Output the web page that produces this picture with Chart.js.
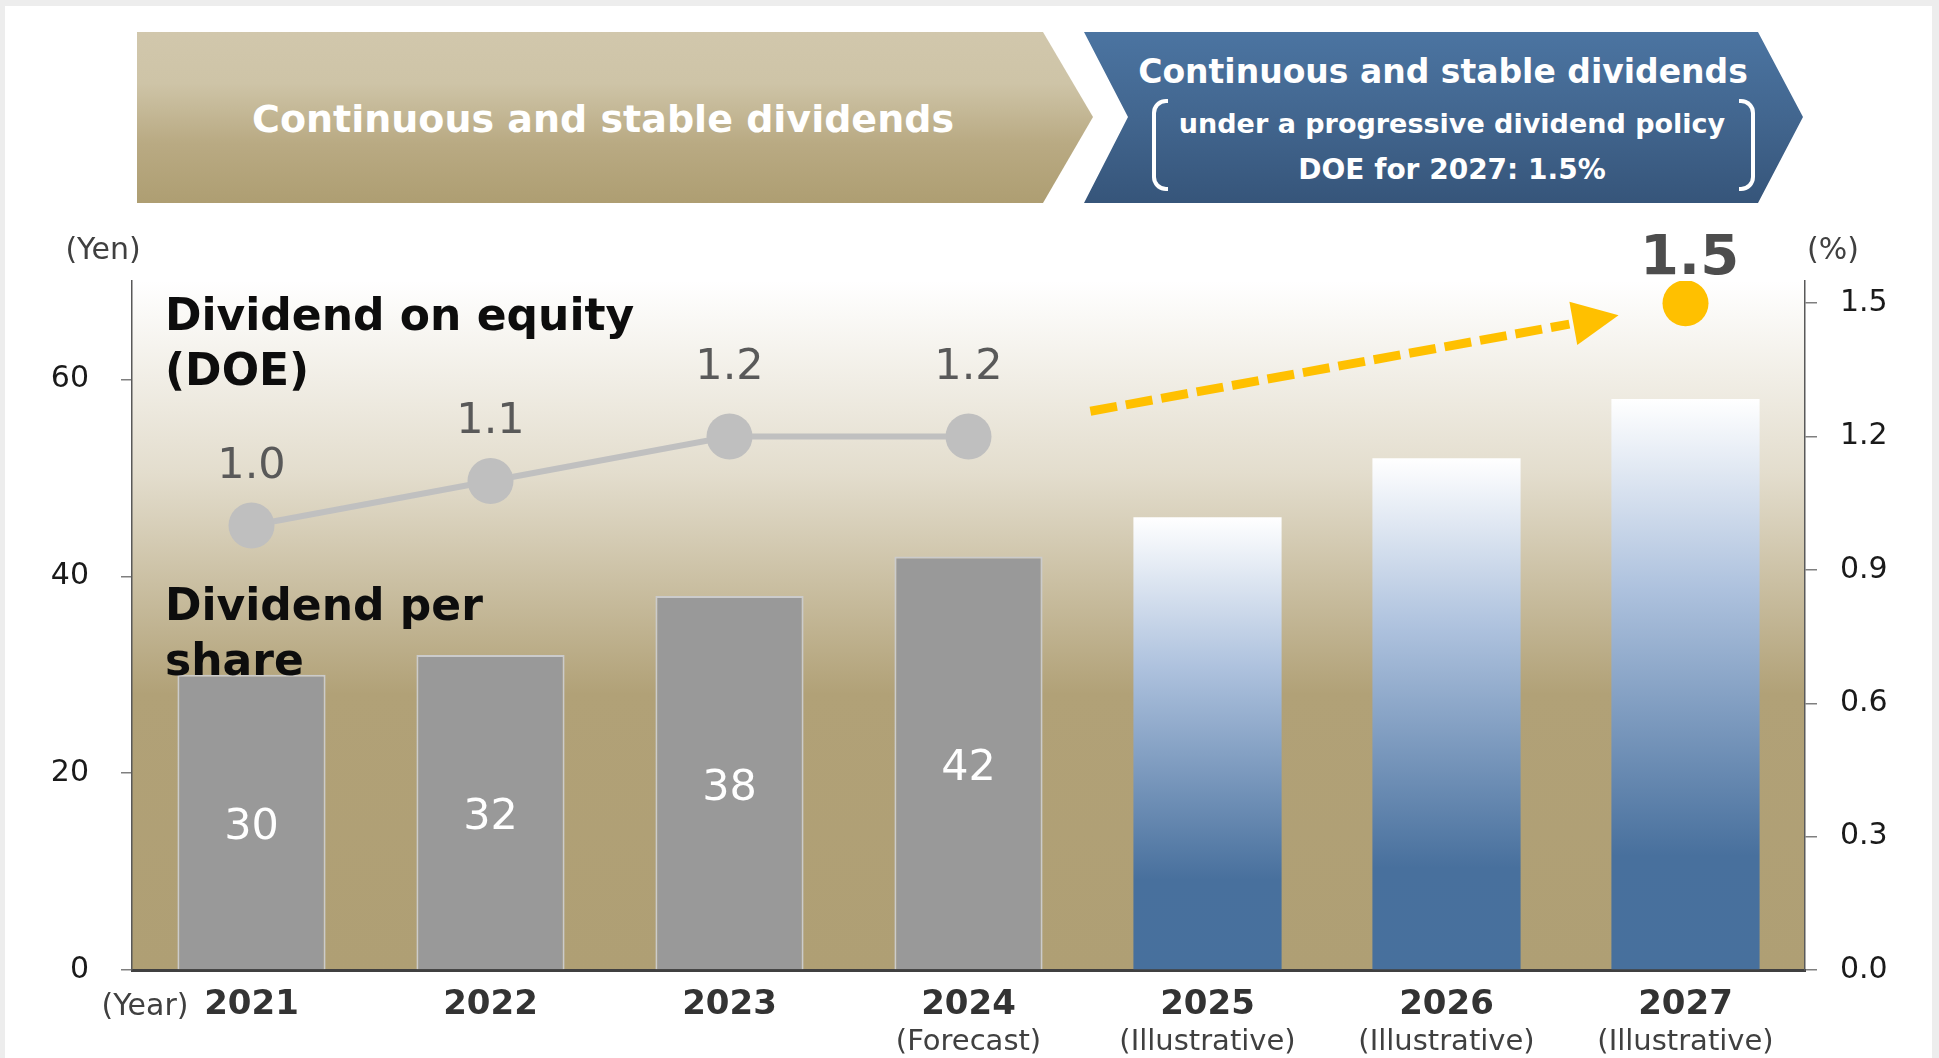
<!DOCTYPE html>
<html>
<head>
<meta charset="utf-8">
<script src="https://cdn.jsdelivr.net/npm/chart.js@4.4.1/dist/chart.umd.min.js"></script>
<style>
html,body{margin:0;padding:0;background:#EDEDED;width:1939px;height:1058px;overflow:hidden;font-family:"DejaVu Sans",sans-serif;}
#panel{position:absolute;left:5px;top:6px;width:1927px;height:1052px;background:#fff;}
#c{position:absolute;left:0;top:0;}
.banner{position:absolute;color:#fff;font-weight:bold;white-space:nowrap;}
.banner div.t{position:absolute;text-align:center;}
#bLeft{left:137px;top:32px;width:956px;height:171px;
  clip-path:polygon(0 0,906px 0,956px 85px,906px 171px,0 171px);
  background:linear-gradient(to bottom,#D1C7AC 0%,#CEC4A7 30%,#B9AA83 65%,#AE9E72 100%);}
#bRight{left:1084px;top:32px;width:719px;height:171px;
  clip-path:polygon(0 0,674px 0,719px 85px,674px 171px,0 171px,44px 85px);
  background:linear-gradient(to bottom,#4B74A1 0%,#42668F 50%,#36557A 100%);}
.br{position:absolute;top:67px;width:12px;height:84px;border:4px solid #fff;}
.br.l{left:68px;border-right:none;border-radius:14px 0 0 14px;}
.br.r{left:655px;border-left:none;border-radius:0 14px 14px 0;}
</style>
</head>
<body>
<div id="panel"></div>
<canvas id="c" width="1939" height="1058"></canvas>
<div class="banner" id="bLeft">
  <div class="t" style="left:0;width:932px;top:68px;font-size:38px;line-height:38px;">Continuous and stable dividends</div>
</div>
<div class="banner" id="bRight">
  <div class="t" style="left:0;width:718px;top:23px;font-size:33px;line-height:33px;">Continuous and stable dividends</div>
  <div class="br l"></div><div class="br r"></div>
  <div class="t" style="left:0;width:736px;top:78px;font-size:27px;line-height:27px;">under a progressive dividend policy</div>
  <div class="t" style="left:0;width:736px;top:124px;font-size:28px;line-height:28px;">DOE for 2027: 1.5%</div>
</div>
<script>
// ---- data ----
const categories = ['2021', '2022', '2023', '2024', '2025', '2026', '2027'];
const subLabels = ['', '', '', '(Forecast)', '(Illustrative)', '(Illustrative)', '(Illustrative)'];
const dividendPerShare = [30, 32, 38, 42, 46, 52, 58];
const doeActual = [1.0, 1.1, 1.2, 1.2, null, null, null];
const doeTarget = [null, null, null, null, null, null, 1.5];
const yenTicks = [0, 20, 40, 60];
const pctTicks = [0, 0.3, 0.6, 0.9, 1.2, 1.5];
const arrowFrom = [3.51, 1.257];   // [category index, %]
const arrowTo = [5.72, 1.473];
// label lift above each DOE point (px, style only)
const doeLabelLift = [47, 48, 58, 58, 0, 0, 0];

const FAMILY = '"DejaVu Sans", Verdana, sans-serif';
const isIllustrative = i => subLabels[i] === '(Illustrative)';

function barFill(c) {
  const i = c.dataIndex;
  if (!isIllustrative(i)) return '#999999';
  const chart = c.chart, ys = chart.scales.y;
  if (!chart.chartArea || !ys) return '#47709D';
  const top = ys.getPixelForValue(dividendPerShare[i]);
  const bot = ys.getPixelForValue(0);
  const g = chart.ctx.createLinearGradient(0, top, 0, bot);
  g.addColorStop(0, '#FFFFFF');
  g.addColorStop(0.33, '#AEC2DE');
  g.addColorStop(0.8, '#48709D');
  g.addColorStop(1, '#47709D');
  return g;
}

const bgPlugin = {
  id: 'bg',
  beforeDraw(chart) {
    const {ctx, chartArea: a} = chart;
    const g = ctx.createLinearGradient(0, a.top, 0, a.bottom);
    g.addColorStop(0, '#FFFFFF');
    g.addColorStop(0.28, '#E3DDCD');
    g.addColorStop(0.6, '#B1A177');
    g.addColorStop(1, '#AF9F74');
    ctx.save();
    ctx.fillStyle = g;
    ctx.fillRect(a.left, a.top, a.right - a.left, a.bottom - a.top);
    ctx.restore();
  }
};

const labelPlugin = {
  id: 'labels',
  afterDatasetsDraw(chart) {
    const {ctx, chartArea: a, scales} = chart;
    ctx.save();
    // bar value labels
    const bm = chart.getDatasetMeta(0);
    ctx.font = '43px ' + FAMILY;
    ctx.fillStyle = '#FFFFFF';
    ctx.textAlign = 'center';
    ctx.textBaseline = 'middle';
    bm.data.forEach((bar, i) => {
      if (isIllustrative(i)) return;
      ctx.fillText(String(dividendPerShare[i]), bar.x, (bar.y + bar.base) / 2 + 6);
    });
    // DOE labels
    const lm = chart.getDatasetMeta(1);
    ctx.font = '43px ' + FAMILY;
    ctx.fillStyle = '#595959';
    ctx.textBaseline = 'alphabetic';
    lm.data.forEach((pt, i) => {
      if (doeActual[i] == null) return;
      ctx.fillText(doeActual[i].toFixed(1), pt.x, pt.y - doeLabelLift[i]);
    });
    const tm = chart.getDatasetMeta(2);
    ctx.font = 'bold 56px ' + FAMILY;
    ctx.fillStyle = '#4D4D4D';
    tm.data.forEach((pt, i) => {
      if (doeTarget[i] == null) return;
      ctx.fillText(doeTarget[i].toFixed(1), pt.x + 4, pt.y - 29);
    });
    // series annotations
    ctx.font = 'bold 44px ' + FAMILY;
    ctx.fillStyle = '#0D0D0D';
    ctx.textAlign = 'left';
    ctx.fillText('Dividend on equity', a.left + 33, a.top + 49);
    ctx.fillText('(DOE)', a.left + 33, a.top + 104);
    ctx.fillText('Dividend per', a.left + 33, a.top + 339);
    ctx.fillText('share', a.left + 33, a.top + 394);
    // axis titles
    ctx.font = '30px ' + FAMILY;
    ctx.fillStyle = '#404040';
    ctx.textAlign = 'center';
    ctx.fillText('(Yen)', a.left - 29, a.top - 22);
    ctx.fillText('(%)', a.right + 28, a.top - 22);
    ctx.textAlign = 'right';
    ctx.fillText('(Year)', scales.x.getPixelForValue(0) - 63, a.bottom + 45);
    // dashed arrow
    const xs = scales.x, y2 = scales.y2;
    const x0 = xs.getPixelForValue(arrowFrom[0]), yy0 = y2.getPixelForValue(arrowFrom[1]);
    const x1 = xs.getPixelForValue(arrowTo[0]), yy1 = y2.getPixelForValue(arrowTo[1]);
    const dx = x1 - x0, dy = yy1 - yy0, len = Math.hypot(dx, dy);
    const ux = dx / len, uy = dy / len;
    const headLen = 46, headHalf = 22;
    const bx = x1 - ux * headLen, by = yy1 - uy * headLen;
    ctx.strokeStyle = '#FFC000';
    ctx.fillStyle = '#FFC000';
    ctx.lineWidth = 9;
    ctx.setLineDash([27, 9]);
    ctx.beginPath();
    ctx.moveTo(x0, yy0);
    ctx.lineTo(bx - ux * 4, by - uy * 4);
    ctx.stroke();
    ctx.setLineDash([]);
    ctx.beginPath();
    ctx.moveTo(x1, yy1);
    ctx.lineTo(bx - uy * headHalf, by + ux * headHalf);
    ctx.lineTo(bx + uy * headHalf, by - ux * headHalf);
    ctx.closePath();
    ctx.fill();
    ctx.restore();
  }
};

new Chart(document.getElementById('c'), {
  data: {
    labels: categories,
    datasets: [
      {
        type: 'bar', label: 'Dividend per share', data: dividendPerShare,
        xAxisID: 'x', yAxisID: 'y', order: 2,
        barPercentage: 0.62, categoryPercentage: 1.0,
        backgroundColor: barFill,
        borderColor: c => isIllustrative(c.dataIndex) ? 'rgba(0,0,0,0)' : '#CBCBCB',
        borderWidth: c => isIllustrative(c.dataIndex) ? 0 : 2,
        borderSkipped: 'bottom'
      },
      {
        type: 'line', label: 'DOE', data: doeActual,
        xAxisID: 'x', yAxisID: 'y2', order: 1,
        borderColor: '#C0C0C0', borderWidth: 6,
        pointRadius: 23, pointHoverRadius: 23,
        pointBackgroundColor: '#BFBFBF', pointBorderWidth: 0,
        spanGaps: false
      },
      {
        type: 'line', label: 'DOE target', data: doeTarget,
        xAxisID: 'x', yAxisID: 'y2', order: 0,
        showLine: false,
        pointRadius: 23, pointHoverRadius: 23,
        pointBackgroundColor: '#FFC000', pointBorderWidth: 0
      }
    ]
  },
  options: {
    responsive: false,
    animation: false,
    devicePixelRatio: 1,
    layout: { padding: { left: 0, right: 0, top: 281, bottom: 0 } },
    plugins: { legend: { display: false }, tooltip: { enabled: false }, title: { display: false } },
    scales: {
      x: {
        type: 'category', position: 'bottom', offset: true, z: 1, weight: 0,
        grid: { display: false, drawTicks: false },
        border: { display: true, color: '#404040', width: 3 },
        ticks: { autoSkip: false, maxRotation: 0, padding: 15, color: '#333333',
                 font: { family: FAMILY, size: 34, weight: 'bold' } },
        afterFit: s => { s.height = 50; }
      },
      x2: {
        type: 'category', labels: subLabels, position: 'bottom', offset: true, weight: 1,
        grid: { display: false, drawTicks: false },
        border: { display: false },
        ticks: { autoSkip: false, maxRotation: 0, padding: 5, color: '#404040',
                 font: { family: FAMILY, size: 29 } },
        afterFit: s => { s.height = 38; }
      },
      y: {
        type: 'linear', position: 'left', min: 0, max: 70,
        afterBuildTicks: s => { s.ticks = yenTicks.map(v => ({ value: v })); },
        afterFit: s => { s.width = 132; },
        grid: { drawOnChartArea: false, drawTicks: true, tickLength: 11, color: '#7F7F7F', lineWidth: 1.5 },
        border: { color: '#595959', width: 1.5 },
        ticks: { padding: 32, color: '#1A1A1A', font: { family: FAMILY, size: 30 } }
      },
      y2: {
        type: 'linear', position: 'right', min: 0, max: 1.55,
        afterBuildTicks: s => { s.ticks = pctTicks.map(v => ({ value: v })); },
        afterFit: s => { s.width = 134; },
        grid: { drawOnChartArea: false, drawTicks: true, tickLength: 12, color: '#7F7F7F', lineWidth: 1.5 },
        border: { color: '#595959', width: 1.5 },
        ticks: { padding: 23, color: '#1A1A1A', font: { family: FAMILY, size: 30 },
                 callback: v => Number(v).toFixed(1) }
      }
    }
  },
  plugins: [bgPlugin, labelPlugin]
});
</script>
</body>
</html>
